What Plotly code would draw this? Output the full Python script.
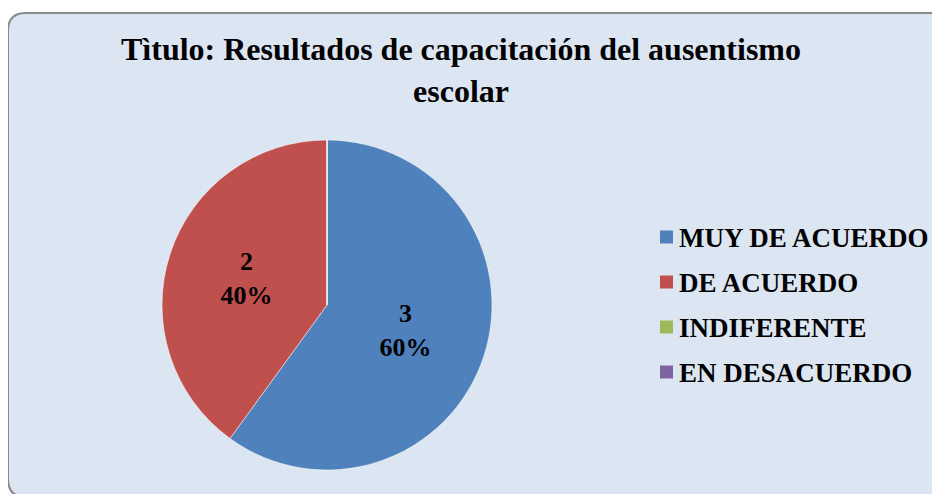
import plotly.graph_objects as go

# ---- data ----
labels = ["MUY DE ACUERDO", "DE ACUERDO", "INDIFERENTE", "EN DESACUERDO"]
values = [3, 2, 0, 0]
colors = ["#4f81bd", "#c0504d", "#9bbb59", "#8064a2"]
title_text = "Tìtulo: Resultados de capacitación del ausentismo<br>escolar"

W, H = 940, 494
OFF = 8  # page body margin
FONT = "Liberation Serif, Times New Roman, serif"


def px(x):
    return (x - OFF) / W


def py(y):
    return 1 - (y - OFF) / H


fig = go.Figure()

fig.add_trace(go.Pie(
    labels=labels,
    values=values,
    marker=dict(colors=colors, line=dict(color="#ffffff", width=0.5)),
    sort=False,
    direction="clockwise",
    rotation=0,
    texttemplate="%{value}<br>%{percent:.0%}",
    textposition="inside",
    insidetextorientation="horizontal",
    textfont=dict(family=FONT, size=26, color="#000000", weight="bold"),
    domain=dict(x=[px(162), px(492)], y=[py(470), py(140)]),
    showlegend=False,
    hoverinfo="label+value+percent",
))

# rounded chart-area background
x0, x1, y0, y1, r = 8, 960, 13, 497, 18
rx, ry = r / W, r / H
path = (
    f"M {px(x0)+rx},{py(y0)} L {px(x1)-rx},{py(y0)} "
    f"Q {px(x1)},{py(y0)} {px(x1)},{py(y0)-ry} "
    f"L {px(x1)},{py(y1)+ry} Q {px(x1)},{py(y1)} {px(x1)-rx},{py(y1)} "
    f"L {px(x0)+rx},{py(y1)} Q {px(x0)},{py(y1)} {px(x0)},{py(y1)+ry} "
    f"L {px(x0)},{py(y0)-ry} Q {px(x0)},{py(y0)} {px(x0)+rx},{py(y0)} Z"
)
shapes = [dict(type="path", xref="paper", yref="paper", path=path,
               fillcolor="#dce6f2", line=dict(color="#8a8a8a", width=2),
               layer="below")]

# legend built from labels/colors
annotations = []
leg_x, leg_y0, leg_dy, sq = 660, 237, 45, 13
for i, (lab, col) in enumerate(zip(labels, colors)):
    cy = leg_y0 + i * leg_dy
    shapes.append(dict(type="rect", xref="paper", yref="paper",
                       x0=px(leg_x), x1=px(leg_x + sq),
                       y0=py(cy + sq / 2), y1=py(cy - sq / 2),
                       fillcolor=col, line=dict(width=0)))
    annotations.append(dict(text=lab, xref="paper", yref="paper",
                            x=px(leg_x + 17), y=py(cy + 1), xanchor="left",
                            yanchor="middle", showarrow=False,
                            font=dict(family=FONT, size=27, color="#000000",
                                      weight="bold")))

fig.update_layout(
    width=W, height=H,
    margin=dict(l=0, r=0, t=0, b=0),
    paper_bgcolor="#ffffff",
    plot_bgcolor="#ffffff",
    title=dict(text=title_text, x=px(461), xanchor="center",
               y=py(60), yanchor="top",
               font=dict(family=FONT, size=32, color="#000000", weight="bold")),
    shapes=shapes,
    annotations=annotations,
    showlegend=False,
)

fig.write_html("out.html")
